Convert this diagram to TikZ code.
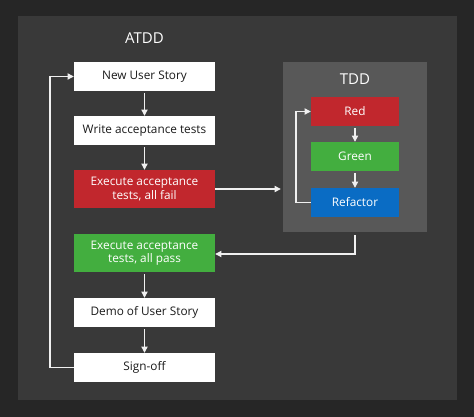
\documentclass[tikz,border=0pt]{standalone}
\usepackage{fontspec}
\setmainfont{Open Sans}
\usetikzlibrary{arrows.meta,positioning}
\definecolor{ADCanvas}{HTML}{262626}
\definecolor{ADPanel}{HTML}{393939}
\definecolor{ADPanelUp}{HTML}{585858}
\definecolor{ADRed}{HTML}{C1272D}
\definecolor{ADGreen}{HTML}{43AE3F}
\definecolor{ADBlue}{HTML}{0A6CC4}
\definecolor{ADInk}{HTML}{1A1A1A}
\definecolor{ADLine}{HTML}{F0F0F0}
\tikzset{
  flow/.style={-{Triangle[length=2.2mm,width=2.2mm]},ADLine,line width=1.1pt},
  loop/.style={flow,rounded corners=0pt},
  card/.style={fill=white,text=ADInk,minimum width=141pt,minimum height=29pt,
               inner sep=1pt,align=center,font=\fontsize{11.8}{13.5}\selectfont},
  cardred/.style={card,fill=ADRed,text=white,minimum height=38pt},
  cardgreen/.style={card,fill=ADGreen,text=white,minimum height=38pt},
  chip/.style={card,minimum width=88pt},
  chipred/.style={chip,fill=ADRed,text=white},
  chipgreen/.style={chip,fill=ADGreen,text=white},
  chipblue/.style={chip,fill=ADBlue,text=white},
  panelhead/.style={text=white,font=\fontsize{15}{18}\selectfont},
}
\begin{document}
\begin{tikzpicture}[x=1pt,y=-1pt]
    % background and frame
    \fill[ADCanvas] (0,0) rectangle (474,417);
    \useasboundingbox (0,0) rectangle (474,417);
    \fill[ADPanel] (18,16) rectangle (457,400);

    % ATDD column
    \node[panelhead] (atdd) at (144.5,38) {ATDD};
    \node[card] (story) at (144.5,76.5) {New User Story};
    \node[card] (write) at (144.5,130.5) {Write acceptance tests};
    \node[cardred] (fail) at (144.5,189) {Execute acceptance\\tests, all fail};
    \node[cardgreen] (pass) at (144.5,253) {Execute acceptance\\tests, all pass};
    \node[card] (demo) at (144.5,312.5) {Demo of User Story};
    \node[card] (sign) at (144.5,367.5) {Sign-off};

    % TDD panel
    \node[fill=ADPanelUp,minimum width=144pt,minimum height=170pt] (tdd) at (355,147) {};
    \node[panelhead] (tddhead) at (355,79) {TDD};
    \node[chipred] (red) at (355,111.5) {Red};
    \node[chipgreen] (green) at (355,156.5) {Green};
    \node[chipblue] (refactor) at (355,202.5) {Refactor};

    \draw[flow,shorten <=2pt] (story.south)--(write.north);
    \draw[flow,shorten <=2pt] (write.south)--(fail.north);
    \draw[flow,shorten <=2pt] (pass.south)--(demo.north);
    \draw[flow,shorten <=2pt] (demo.south)--(sign.north);
    \draw[flow,shorten <=2pt] (red.south)--(green.north);
    \draw[flow,shorten <=2pt] (green.south)--(refactor.north);

    \draw[flow,shorten >=2pt] (fail.east)--(tdd.west |- fail.east);
    \coordinate (back) at (355,254);
    \draw[loop,shorten <=3pt] (tdd.south)--(back)--(pass.east |- back);

    \coordinate (outer) at (50,0);
    \draw[loop] (sign.west)--(outer |- sign.west)--(outer |- story.west)--(story.west);
    \coordinate (inner) at (296,0);
    \draw[loop] (refactor.west)--(inner |- refactor.west)--(inner |- red.west)--(red.west);
  \end{tikzpicture}
\end{document}
